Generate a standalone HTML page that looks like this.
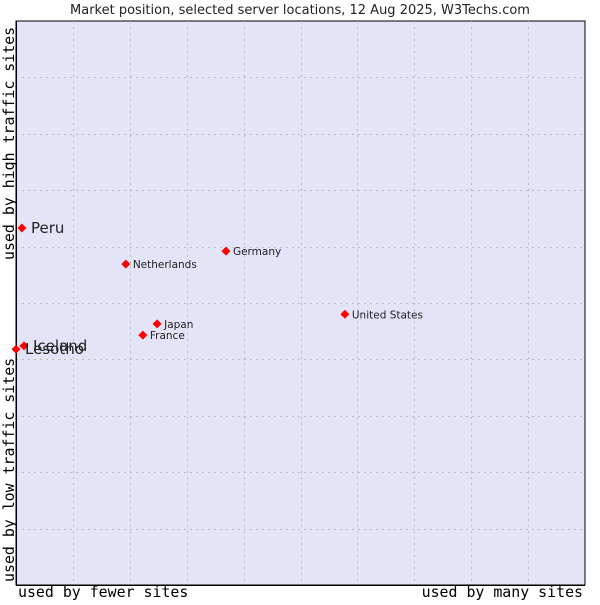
<!DOCTYPE html>
<html><head><meta charset="utf-8"><style>
body{margin:0;background:#fff;width:600px;height:600px;overflow:hidden}
svg text{font-family:"DejaVu Sans","Liberation Sans",sans-serif}
.mono{font-family:"DejaVu Sans Mono","Liberation Mono",monospace}
</style></head><body>
<svg id="chart" width="600" height="600" xmlns="http://www.w3.org/2000/svg">
<text x="300" y="14" text-anchor="middle" font-size="13" fill="#222">Market position, selected server locations, 12 Aug 2025, W3Techs.com</text>
<rect x="16" y="21" width="569" height="564" fill="#e3e4f8" stroke="#000" stroke-width="1"/>
<g id="grid"></g>
<line x1="16.5" y1="21" x2="16.5" y2="585" stroke="#000"/>
<line x1="16" y1="585.5" x2="585" y2="585.5" stroke="#000"/>
<g id="points"></g>
<text class="mono" x="18" y="597" font-size="14.9" fill="#000">used by fewer sites</text>
<text class="mono" x="583" y="597" font-size="14.9" text-anchor="end" fill="#000">used by many sites</text>
<text class="mono" transform="translate(14,582) rotate(-90)" font-size="14.9" fill="#000">used by low traffic sites</text>
<text class="mono" transform="translate(14,260) rotate(-90)" font-size="14.9" fill="#000">used by high traffic sites</text>
</svg>
<script>
const names=["Peru","Netherlands","Germany","United States","Japan","France","Iceland","Lesotho"];
const xValues=[1.05,19.3,36.9,57.8,24.8,22.3,1.4,0];
const yValues=[63.3,56.9,59.2,48.0,46.3,44.3,42.4,41.8];
const bigLabel=[true,false,false,false,false,false,true,true];
const X0=16,X1=585,Y0=585,Y1=21;
const sx=v=>X0+v/100*(X1-X0);
const sy=v=>Y0-v/100*(Y0-Y1);
const NS="http://www.w3.org/2000/svg";
const grid=document.getElementById('grid');
for(let i=1;i<10;i++){
  const x=Math.round(sx(i*10))+0.5,y=Math.round(sy(i*10))+0.5;
  const v=document.createElementNS(NS,'line');
  v.setAttribute('x1',x);v.setAttribute('x2',x);v.setAttribute('y1',Y1);v.setAttribute('y2',Y0);
  v.setAttribute('stroke','#bbb');v.setAttribute('stroke-dasharray','2,4');
  
  
  grid.appendChild(v);
  const h=document.createElementNS(NS,'line');
  h.setAttribute('x1',X0);h.setAttribute('x2',X1);h.setAttribute('y1',y);h.setAttribute('y2',y);
  h.setAttribute('stroke','#bbb');h.setAttribute('stroke-dasharray','2,4');
  
  
  grid.appendChild(h);
}
const pts=document.getElementById('points');
names.forEach((n,i)=>{
  const x=sx(xValues[i]),y=sy(yValues[i]);
  const d=document.createElementNS(NS,'path');
  d.setAttribute('d',`M${x-4.5},${y}L${x},${y-4.5}L${x+4.5},${y}L${x},${y+4.5}Z`);
  d.setAttribute('fill','#f00');
  
  
  pts.appendChild(d);
  const t=document.createElementNS(NS,'text');
  t.setAttribute('x',x+(bigLabel[i]?9:7));
  t.setAttribute('y',y+(bigLabel[i]?5:4));
  t.setAttribute('font-size',bigLabel[i]?15:10.5);
  t.setAttribute('fill','#222');
  t.textContent=n;
  
  
  pts.appendChild(t);
});
</script>
</body></html>
